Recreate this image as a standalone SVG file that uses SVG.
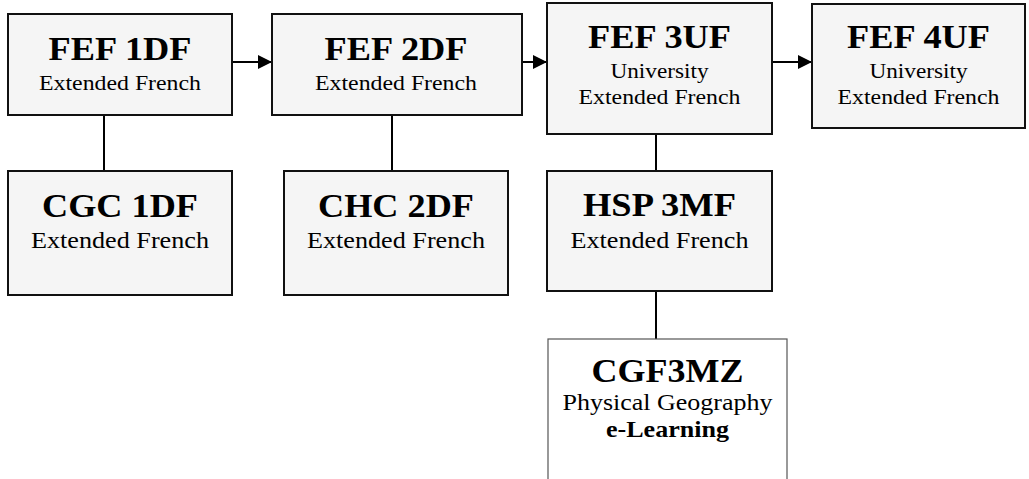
<svg xmlns="http://www.w3.org/2000/svg" width="1029" height="479" viewBox="0 0 1029 479">
<style>
.box{fill:#f5f5f5;stroke:#111;stroke-width:2}
.box2{fill:#fff;stroke:#555;stroke-width:1.2}
text{font-family:'Liberation Serif','Times New Roman',Times,serif;fill:#000;text-anchor:middle}
.t{font-weight:bold;font-size:34px}
.s{font-size:22px}
.s2{font-size:24px}
.b2{font-size:24px;font-weight:bold}
.c{stroke:#000;stroke-width:2;fill:none}
</style>
<defs>
<marker id="ah" markerUnits="userSpaceOnUse" markerWidth="14" markerHeight="14" refX="14" refY="7" orient="auto">
<path d="M0,0 L14,7 L0,14 Z" fill="#000"/>
</marker>
</defs>
<g id="connectors">
<line class="c" x1="233" y1="62" x2="272" y2="62" marker-end="url(#ah)"/>
<line class="c" x1="523" y1="62" x2="547" y2="62" marker-end="url(#ah)"/>
<line class="c" x1="773" y1="62" x2="812" y2="62" marker-end="url(#ah)"/>
<line class="c" x1="104" y1="115" x2="104" y2="171"/>
<line class="c" x1="392" y1="115" x2="392" y2="171"/>
<line class="c" x1="656" y1="134" x2="656" y2="171"/>
<line class="c" x1="656" y1="291" x2="656" y2="339"/>
</g>
<g id="fef1df">
<rect class="box" x="8" y="14" width="224" height="101"/>
<text class="t" x="120" y="60" textLength="143" lengthAdjust="spacingAndGlyphs">FEF 1DF</text>
<text class="s" x="120" y="90" textLength="162" lengthAdjust="spacingAndGlyphs">Extended French</text>
</g>
<g id="fef2df">
<rect class="box" x="272" y="14" width="250" height="101"/>
<text class="t" x="396" y="60" textLength="143" lengthAdjust="spacingAndGlyphs">FEF 2DF</text>
<text class="s" x="396" y="90" textLength="162" lengthAdjust="spacingAndGlyphs">Extended French</text>
</g>
<g id="fef3uf">
<rect class="box" x="547" y="3" width="225" height="131"/>
<text class="t" x="659.5" y="48" textLength="143" lengthAdjust="spacingAndGlyphs">FEF 3UF</text>
<text class="s" x="659.5" y="78" textLength="98" lengthAdjust="spacingAndGlyphs">University</text>
<text class="s" x="659.5" y="104" textLength="162" lengthAdjust="spacingAndGlyphs">Extended French</text>
</g>
<g id="fef4uf">
<rect class="box" x="812" y="4" width="213" height="124"/>
<text class="t" x="918.5" y="48" textLength="143" lengthAdjust="spacingAndGlyphs">FEF 4UF</text>
<text class="s" x="918.5" y="78" textLength="98" lengthAdjust="spacingAndGlyphs">University</text>
<text class="s" x="918.5" y="104" textLength="162" lengthAdjust="spacingAndGlyphs">Extended French</text>
</g>
<g id="cgc1df">
<rect class="box" x="8" y="171" width="224" height="124"/>
<text class="t" x="120" y="217" textLength="156" lengthAdjust="spacingAndGlyphs">CGC 1DF</text>
<text class="s2" x="120" y="248" textLength="178" lengthAdjust="spacingAndGlyphs">Extended French</text>
</g>
<g id="chc2df">
<rect class="box" x="284" y="171" width="224" height="124"/>
<text class="t" x="396" y="217" textLength="156" lengthAdjust="spacingAndGlyphs">CHC 2DF</text>
<text class="s2" x="396" y="248" textLength="178" lengthAdjust="spacingAndGlyphs">Extended French</text>
</g>
<g id="hsp3mf">
<rect class="box" x="547" y="171" width="225" height="120"/>
<text class="t" x="659.5" y="216" textLength="153" lengthAdjust="spacingAndGlyphs">HSP 3MF</text>
<text class="s2" x="659.5" y="248" textLength="178" lengthAdjust="spacingAndGlyphs">Extended French</text>
</g>
<g id="cgf3mz">
<rect class="box2" x="548" y="339" width="239" height="160"/>
<text class="t" x="667.5" y="382" textLength="152" lengthAdjust="spacingAndGlyphs">CGF3MZ</text>
<text class="s2" x="667.5" y="410" textLength="210" lengthAdjust="spacingAndGlyphs">Physical Geography</text>
<text class="b2" x="667.5" y="437" textLength="123" lengthAdjust="spacingAndGlyphs">e-Learning</text>
</g>
</svg>
